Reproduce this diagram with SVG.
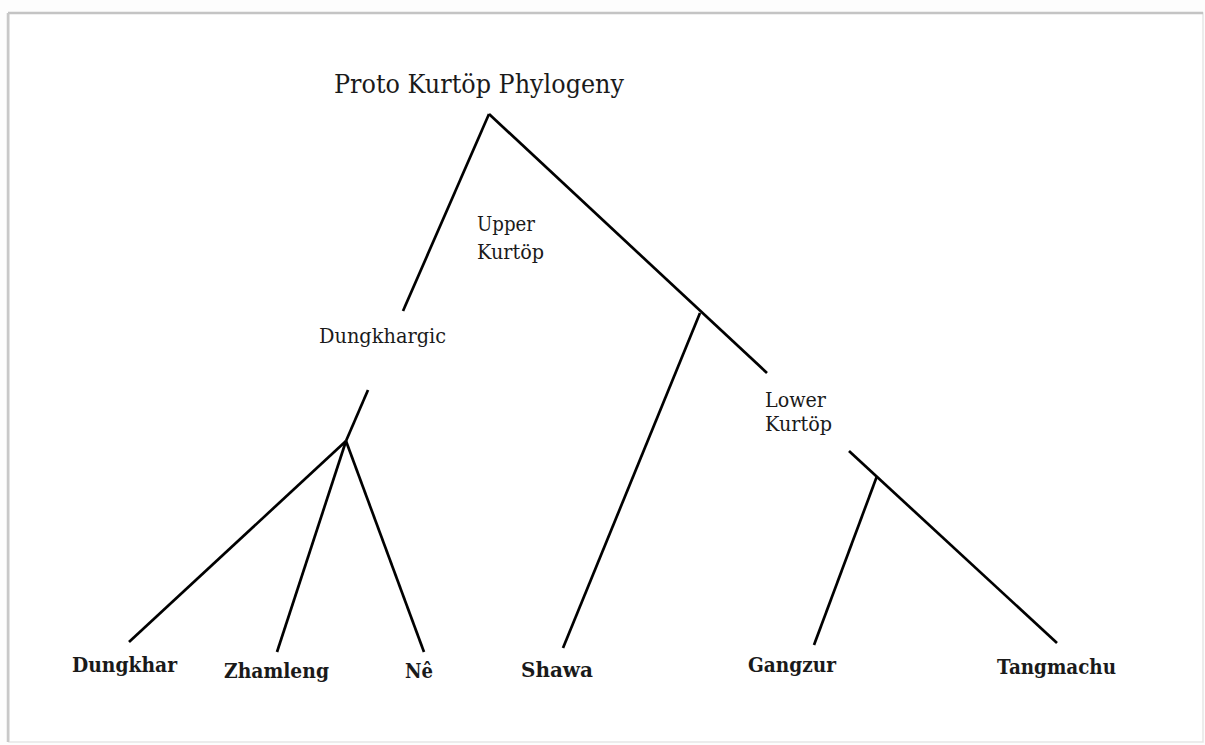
<svg xmlns="http://www.w3.org/2000/svg" width="1205" height="745" viewBox="0 0 1205 745">
<style>
.t{font-family:"DejaVu Serif","Liberation Serif",serif;fill:#1a1a1a}
.lab{font-size:20px}
.leaf{font-size:21px;font-weight:bold}
.edge{stroke:#000;stroke-width:2.7;fill:none;stroke-linecap:butt}
</style>
<rect x="0" y="0" width="1205" height="745" fill="#fdfdfd"/>
<rect x="9" y="13" width="1194" height="729" fill="#fff" stroke="#e6e6e6" stroke-width="1.5"/>
<line x1="8" y1="13" x2="1203" y2="13" stroke="#c4c4c4" stroke-width="2.5"/>
<line x1="8" y1="13" x2="8" y2="742" stroke="#c8c8c8" stroke-width="2.5"/>
<g id="connectors">
<line class="edge" x1="489" y1="114" x2="403" y2="311"/>
<line class="edge" x1="489" y1="114" x2="767" y2="373"/>
<line class="edge" x1="700" y1="313" x2="563" y2="648"/>
<line class="edge" x1="368" y1="390" x2="346" y2="441"/>
<line class="edge" x1="346" y1="441" x2="129" y2="642"/>
<line class="edge" x1="346" y1="441" x2="277" y2="652"/>
<line class="edge" x1="346" y1="441" x2="424" y2="652"/>
<line class="edge" x1="849" y1="451" x2="1057" y2="643"/>
<line class="edge" x1="877" y1="476" x2="814" y2="645"/>
</g>
<g id="root"><text class="t" x="334" y="93" font-size="26" textLength="290" lengthAdjust="spacingAndGlyphs">Proto Kurtöp Phylogeny</text></g>
<g id="upper"><text class="t lab" x="477" y="231" textLength="58" lengthAdjust="spacingAndGlyphs">Upper</text><text class="t lab" x="477" y="259" textLength="67" lengthAdjust="spacingAndGlyphs">Kurtöp</text></g>
<g id="dungkhargic"><text class="t lab" x="319" y="343" textLength="127" lengthAdjust="spacingAndGlyphs">Dungkhargic</text></g>
<g id="lower"><text class="t lab" x="765" y="407" textLength="61" lengthAdjust="spacingAndGlyphs">Lower</text><text class="t lab" x="765" y="431" textLength="67" lengthAdjust="spacingAndGlyphs">Kurtöp</text></g>
<g id="dungkhar"><text class="t leaf" x="72" y="672" textLength="105" lengthAdjust="spacingAndGlyphs">Dungkhar</text></g>
<g id="zhamleng"><text class="t leaf" x="224" y="678" textLength="105" lengthAdjust="spacingAndGlyphs">Zhamleng</text></g>
<g id="ne"><text class="t leaf" x="405" y="678" textLength="28" lengthAdjust="spacingAndGlyphs">Nê</text></g>
<g id="shawa"><text class="t leaf" x="521" y="677" textLength="72" lengthAdjust="spacingAndGlyphs">Shawa</text></g>
<g id="gangzur"><text class="t leaf" x="748" y="672" textLength="88" lengthAdjust="spacingAndGlyphs">Gangzur</text></g>
<g id="tangmachu"><text class="t leaf" x="997" y="674" textLength="119" lengthAdjust="spacingAndGlyphs">Tangmachu</text></g>
</svg>
